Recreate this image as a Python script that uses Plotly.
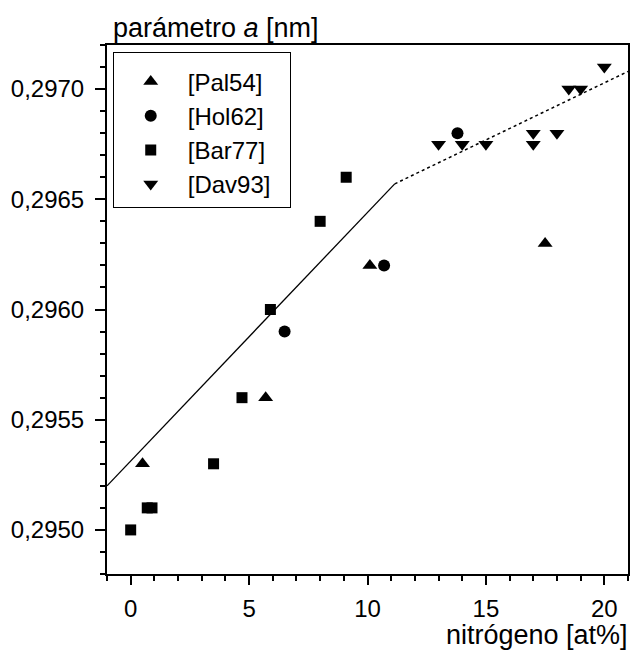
import plotly.graph_objects as go

# Data
pal54_x = [0.5, 5.7, 10.1, 17.5]
pal54_y = [0.2953, 0.2956, 0.2962, 0.2963]

hol62_x = [6.5, 10.7, 13.8]
hol62_y = [0.2959, 0.2962, 0.2968]

bar77_x = [0.0, 0.7, 0.9, 3.5, 4.7, 5.9, 8.0, 9.1]
bar77_y = [0.2950, 0.2951, 0.2951, 0.2953, 0.2956, 0.2960, 0.2964, 0.2966]

dav93_x = [13.0, 14.0, 15.0, 17.0, 17.0, 18.0, 18.5, 19.0, 20.0]
dav93_y = [0.29675, 0.29675, 0.29675, 0.29680, 0.29675, 0.29680, 0.2970, 0.2970, 0.2971]

fit1_x = [-1.0, 11.15]
fit1_y = [0.29520, 0.29657]
fit2_x = [11.15, 21.0]
fit2_y = [0.29657, 0.29708]

FONT = "Arial, Liberation Sans, sans-serif"
PAD = '<span style="color:rgba(0,0,0,0)">_</span>'

fig = go.Figure()

fig.add_trace(go.Scatter(x=fit1_x, y=fit1_y, mode="lines",
                         line=dict(color="black", width=1.3), showlegend=False))
fig.add_trace(go.Scatter(x=fit2_x, y=fit2_y, mode="lines",
                         line=dict(color="black", width=1.5, dash="dot"), showlegend=False))

fig.add_trace(go.Scatter(x=pal54_x, y=pal54_y, mode="markers", name="[Pal54]" + PAD,
                         marker=dict(symbol="triangle-up", size=13, color="black")))
fig.add_trace(go.Scatter(x=hol62_x, y=hol62_y, mode="markers", name="[Hol62]" + PAD,
                         marker=dict(symbol="circle", size=12, color="black")))
fig.add_trace(go.Scatter(x=bar77_x, y=bar77_y, mode="markers", name="[Bar77]" + PAD,
                         marker=dict(symbol="square", size=11, color="black")))
fig.add_trace(go.Scatter(x=dav93_x, y=dav93_y, mode="markers", name="[Dav93]" + PAD,
                         marker=dict(symbol="triangle-down", size=13, color="black")))

fig.update_layout(
    width=632, height=651,
    margin=dict(l=107, r=2, t=45, b=77),
    paper_bgcolor="white", plot_bgcolor="white",
    separators=",.",
    font=dict(family=FONT, size=24, color="black"),
    legend=dict(x=0.011, y=0.987, xanchor="left", yanchor="top",
                bordercolor="black", borderwidth=1, bgcolor="white",
                font=dict(size=24), itemwidth=64, traceorder="normal",
                title=dict(text="\u00a0", font=dict(size=5))),
    xaxis=dict(range=[-1, 21], tickvals=[0, 5, 10, 15, 20],
               ticks="outside", ticklen=9, tickwidth=2, tickcolor="black",
               showline=True, linewidth=2, linecolor="black", mirror=True,
               showgrid=False, zeroline=False, ticklabelstandoff=3,
               minor=dict(dtick=1, tick0=0, ticks="outside", ticklen=5,
                          tickwidth=1.5, tickcolor="black", showgrid=False)),
    yaxis=dict(range=[0.2948, 0.2972],
               tickvals=[0.2950, 0.2955, 0.2960, 0.2965, 0.2970],
               tickformat=".4f",
               ticks="outside", ticklen=10, tickwidth=2, tickcolor="black",
               showline=True, linewidth=2, linecolor="black", mirror=True,
               showgrid=False, zeroline=False, ticklabelstandoff=6,
               minor=dict(dtick=0.0001, tick0=0.2950, ticks="outside", ticklen=5,
                          tickwidth=1.5, tickcolor="black", showgrid=False)),
    annotations=[
        dict(text="parámetro <i>a</i> [nm]", xref="paper", yref="paper",
             x=(111 - 107) / 523, y=1.0, yshift=17, xanchor="left", yanchor="middle",
             showarrow=False, font=dict(size=27, family=FONT)),
        dict(text="nitrógeno [at%]", xref="paper", yref="paper",
             x=1.0, xshift=2, y=0, yshift=-61, xanchor="right", yanchor="middle",
             showarrow=False, font=dict(size=27, family=FONT)),
    ],
)

fig.write_html("out.html",
               config={"displayModeBar": False},
               post_script="document.body.style.margin='0';document.body.style.overflow='hidden';")
